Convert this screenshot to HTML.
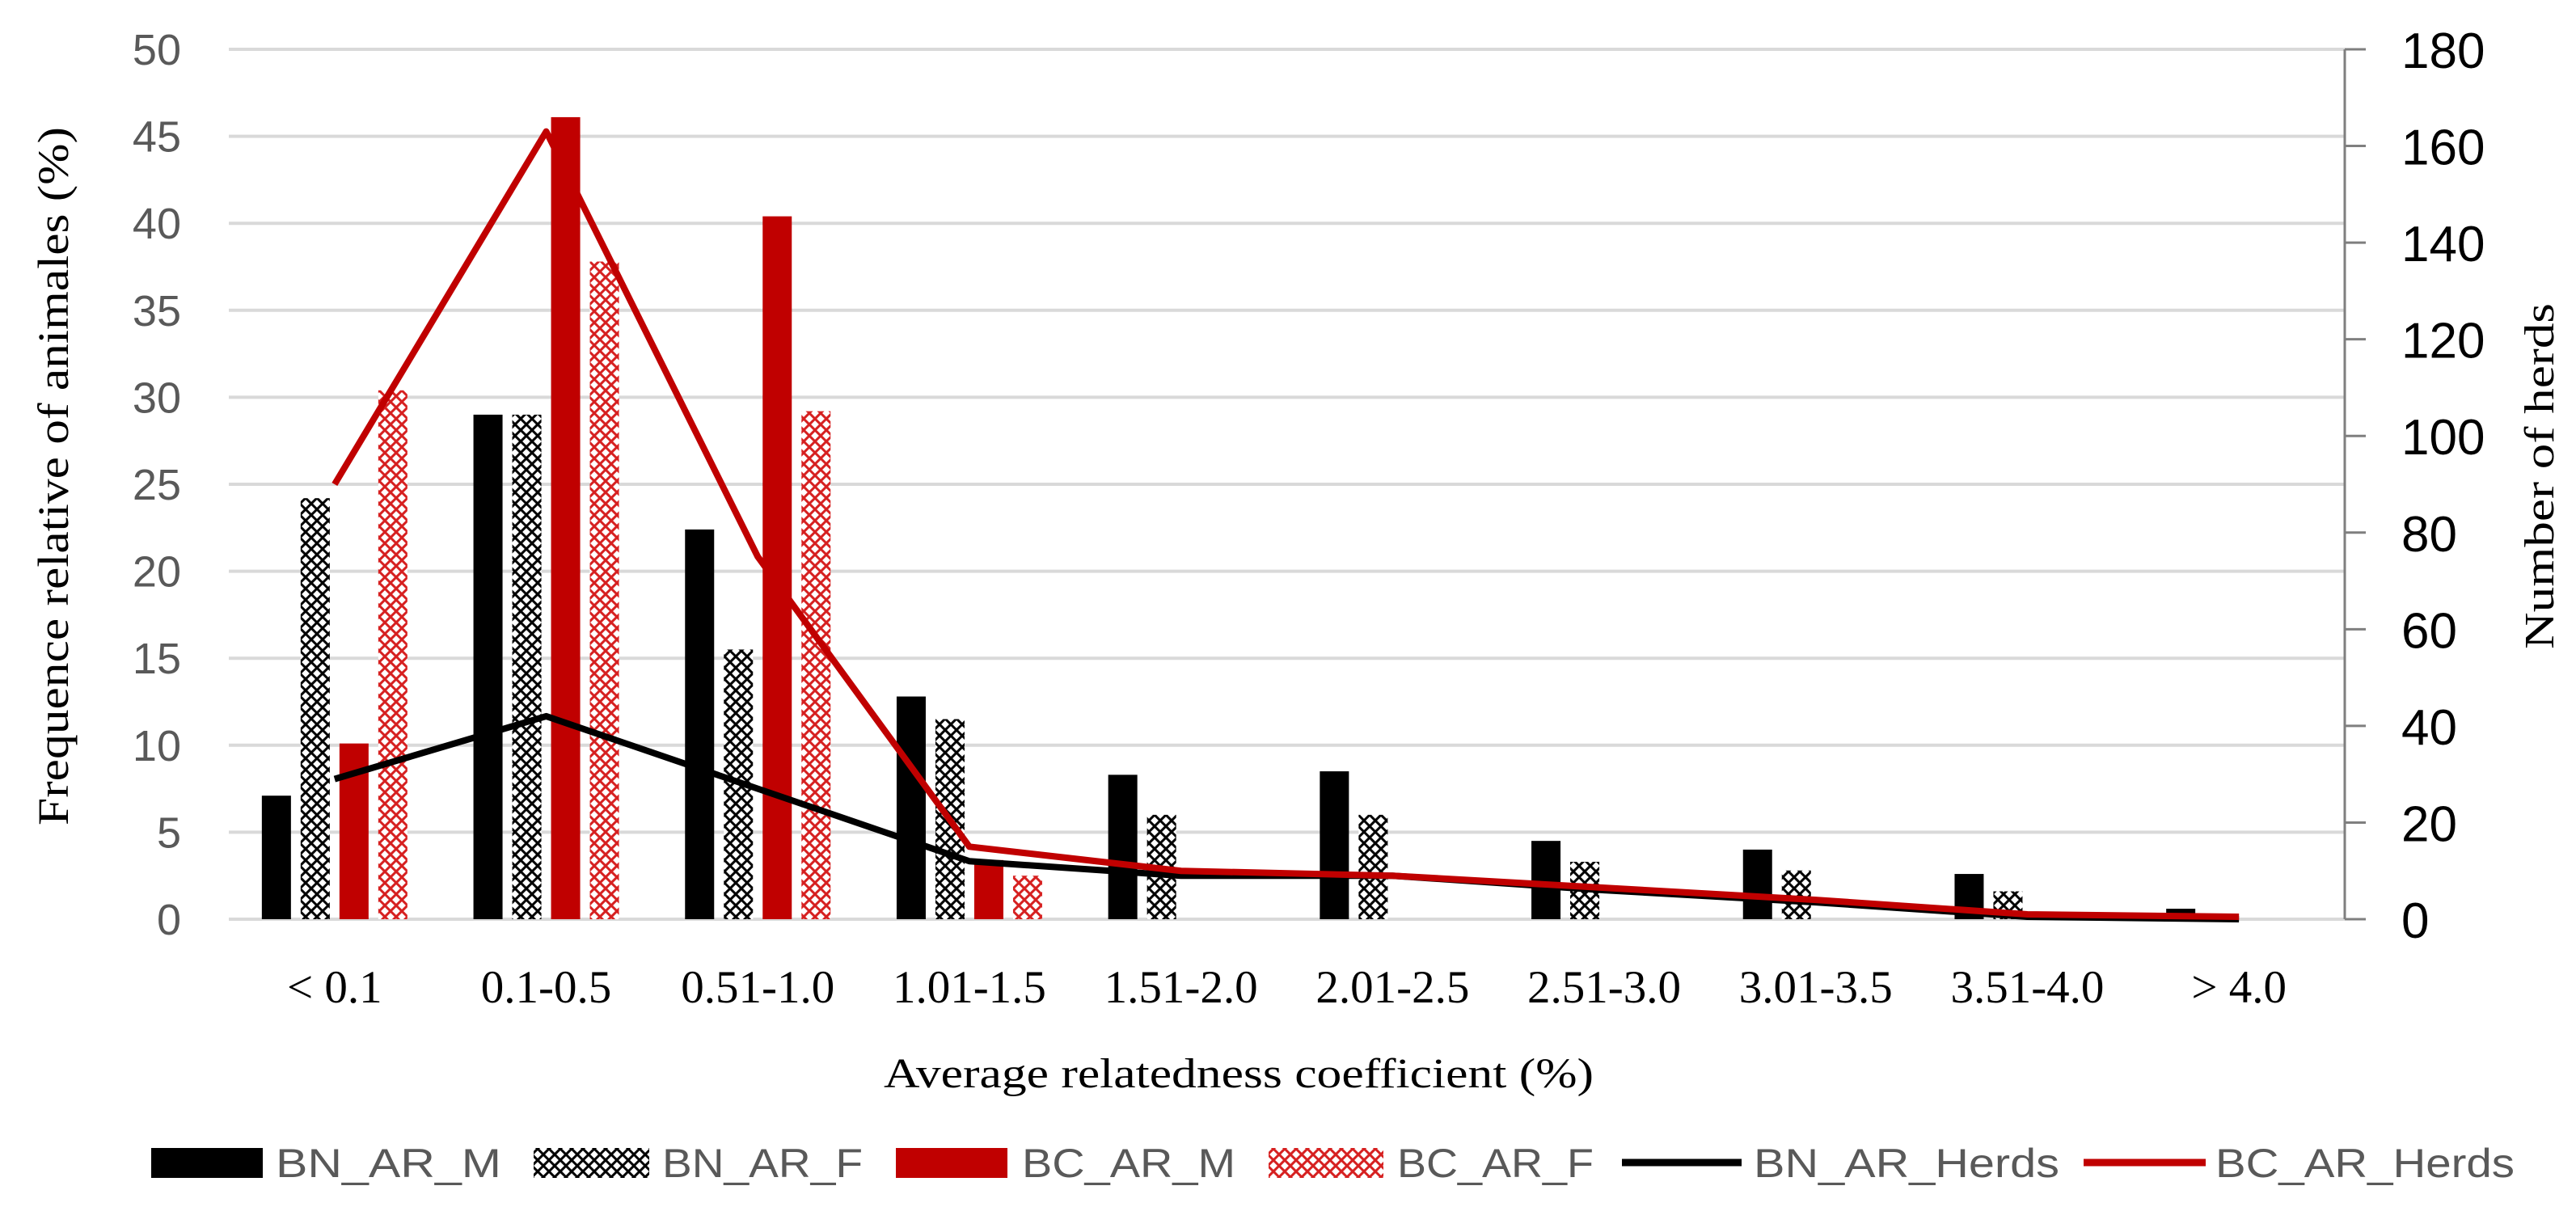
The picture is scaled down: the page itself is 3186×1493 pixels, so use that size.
<!DOCTYPE html>
<html><head><meta charset="utf-8"><style>
html,body{margin:0;padding:0;background:#fff}
svg{display:block}
</style></head><body>
<svg id="chart" width="3186" height="1493" viewBox="0 0 3186 1493" xmlns="http://www.w3.org/2000/svg">
<defs>
<pattern id="hatchBlack" patternUnits="userSpaceOnUse" width="14" height="14">
<rect width="14" height="14" fill="#fff"/>
<path d="M0,0 L14,14 M14,0 L0,14" stroke="#000" stroke-width="3"/>
</pattern>
<pattern id="hatchRed" patternUnits="userSpaceOnUse" width="14" height="14">
<rect width="14" height="14" fill="#fff"/>
<path d="M0,0 L14,14 M14,0 L0,14" stroke="#d62020" stroke-width="3"/>
</pattern>
</defs>
<g id="grid"></g>
<g id="bars"></g>
<g id="lines"></g>
<g id="axes"></g>
<text x="0" y="0" transform="translate(84,589) rotate(-90)" text-anchor="middle" font-family="Liberation Serif, serif" font-size="54" fill="#000" textLength="864" lengthAdjust="spacingAndGlyphs">Frequence relative of animales (%)</text>
<text x="0" y="0" transform="translate(3158,589) rotate(-90)" text-anchor="middle" font-family="Liberation Serif, serif" font-size="52" fill="#000" textLength="428" lengthAdjust="spacingAndGlyphs">Number of herds</text>
<text x="1532" y="1345" text-anchor="middle" font-family="Liberation Serif, serif" font-size="52" fill="#000" textLength="878" lengthAdjust="spacingAndGlyphs">Average relatedness coefficient (%)</text>
<g id="legend">
<rect x="187" y="1420" width="138" height="37" fill="#000"/>
<text x="341" y="1456" font-family="Liberation Sans, sans-serif" font-size="50" fill="#595959" textLength="279" lengthAdjust="spacingAndGlyphs">BN_AR_M</text>
<rect x="660" y="1420" width="143" height="37" fill="url(#hatchBlack)"/>
<text x="819" y="1456" font-family="Liberation Sans, sans-serif" font-size="50" fill="#595959" textLength="248" lengthAdjust="spacingAndGlyphs">BN_AR_F</text>
<rect x="1108" y="1420" width="138" height="37" fill="#c00000"/>
<text x="1264" y="1456" font-family="Liberation Sans, sans-serif" font-size="50" fill="#595959" textLength="264" lengthAdjust="spacingAndGlyphs">BC_AR_M</text>
<rect x="1569" y="1420" width="142" height="37" fill="url(#hatchRed)"/>
<text x="1728" y="1456" font-family="Liberation Sans, sans-serif" font-size="50" fill="#595959" textLength="243" lengthAdjust="spacingAndGlyphs">BC_AR_F</text>
<line x1="2006" y1="1438" x2="2154" y2="1438" stroke="#000" stroke-width="9"/>
<text x="2169" y="1456" font-family="Liberation Sans, sans-serif" font-size="50" fill="#595959" textLength="378" lengthAdjust="spacingAndGlyphs">BN_AR_Herds</text>
<line x1="2577" y1="1438" x2="2728" y2="1438" stroke="#c00000" stroke-width="9"/>
<text x="2740" y="1456" font-family="Liberation Sans, sans-serif" font-size="50" fill="#595959" textLength="370" lengthAdjust="spacingAndGlyphs">BC_AR_Herds</text>
</g>
</svg>
<script>
const categories = ["< 0.1","0.1-0.5","0.51-1.0","1.01-1.5","1.51-2.0","2.01-2.5","2.51-3.0","3.01-3.5","3.51-4.0","> 4.0"];
const bnArM = [7.1,29.0,22.4,12.8,8.3,8.5,4.5,4.0,2.6,0.6];
const bnArF = [24.2,29.0,15.5,11.5,6.0,6.0,3.3,2.8,1.6,0];
const bcArM = [10.1,46.1,40.4,3.4,0,0,0,0,0,0];
const bcArF = [30.4,37.8,29.2,2.5,0,0,0,0,0,0];
const bnArHerds = [29,42,27,12,9,9,6,3.5,0.5,0];
const bcArHerds = [90,163,75,15,10,9,6.5,4,1,0.5];
const leftTicks = [0,5,10,15,20,25,30,35,40,45,50];
const rightTicks = [0,20,40,60,80,100,120,140,160,180];

const NS="http://www.w3.org/2000/svg";
const X0=283,X1=2900,Y0=1137,YT=61;
const band=(X1-X0)/categories.length;
const xc=i=>X0+band*(i+0.5);
const yL=v=>Y0-(v/50)*(Y0-YT);
const yR=v=>Y0-(v/180)*(Y0-YT);
function mk(tag,attrs,parent){const e=document.createElementNS(NS,tag);for(const k in attrs)e.setAttribute(k,attrs[k]);parent.appendChild(e);return e;}
const grid=document.getElementById('grid'),bars=document.getElementById('bars'),lines=document.getElementById('lines'),axes=document.getElementById('axes');
leftTicks.forEach(t=>{
  const l=mk('line',{x1:X0,x2:X1,y1:yL(t),y2:yL(t),stroke:'#d9d9d9','stroke-width':4},grid);
  
  
  const tx=mk('text',{x:224,y:yL(t)+19,'text-anchor':'end','font-family':'Liberation Sans, sans-serif','font-size':54,fill:'#595959'},axes);
  tx.textContent=t;
  
  
});
const ax=mk('line',{x1:X1,x2:X1,y1:YT,y2:Y0,stroke:'#7f7f7f','stroke-width':3},axes);


rightTicks.forEach(t=>{
  const tk=mk('line',{x1:X1,x2:X1+26,y1:yR(t),y2:yR(t),stroke:'#7f7f7f','stroke-width':3},axes);
  
  
  const tx=mk('text',{x:2970,y:yR(t)+23,'font-family':'Liberation Sans, sans-serif','font-size':62,fill:'#000'},axes);
  tx.textContent=t;
  
  
});
const series=[[bnArM,'#000','bn-ar-m'],[bnArF,'url(#hatchBlack)','bn-ar-f'],[bcArM,'#c00000','bc-ar-m'],[bcArF,'url(#hatchRed)','bc-ar-f']];
const bw=36,pitch=48;
categories.forEach((c,i)=>{
  series.forEach((s,j)=>{
    const v=s[0][i];
    if(v<=0)return;
    const x=xc(i)-90+j*pitch;
    const r=mk('rect',{x:x,y:yL(v),width:bw,height:Y0-yL(v),fill:s[1]},bars);
    
    
  });
  const tx=mk('text',{x:xc(i),y:1240,'text-anchor':'middle','font-family':'Liberation Serif, serif','font-size':57,fill:'#000'},axes);
  tx.textContent=c;
  
  
});
[[bnArHerds,'#000','line-bn-ar-herds'],[bcArHerds,'#c00000','line-bc-ar-herds']].forEach(s=>{
  const pts=s[0].map((v,i)=>xc(i)+','+yR(v)).join(' ');
  const p=mk('polyline',{points:pts,fill:'none',stroke:s[1],'stroke-width':8,'stroke-linejoin':'round'},lines);
  
  
});
</script>
</body></html>
